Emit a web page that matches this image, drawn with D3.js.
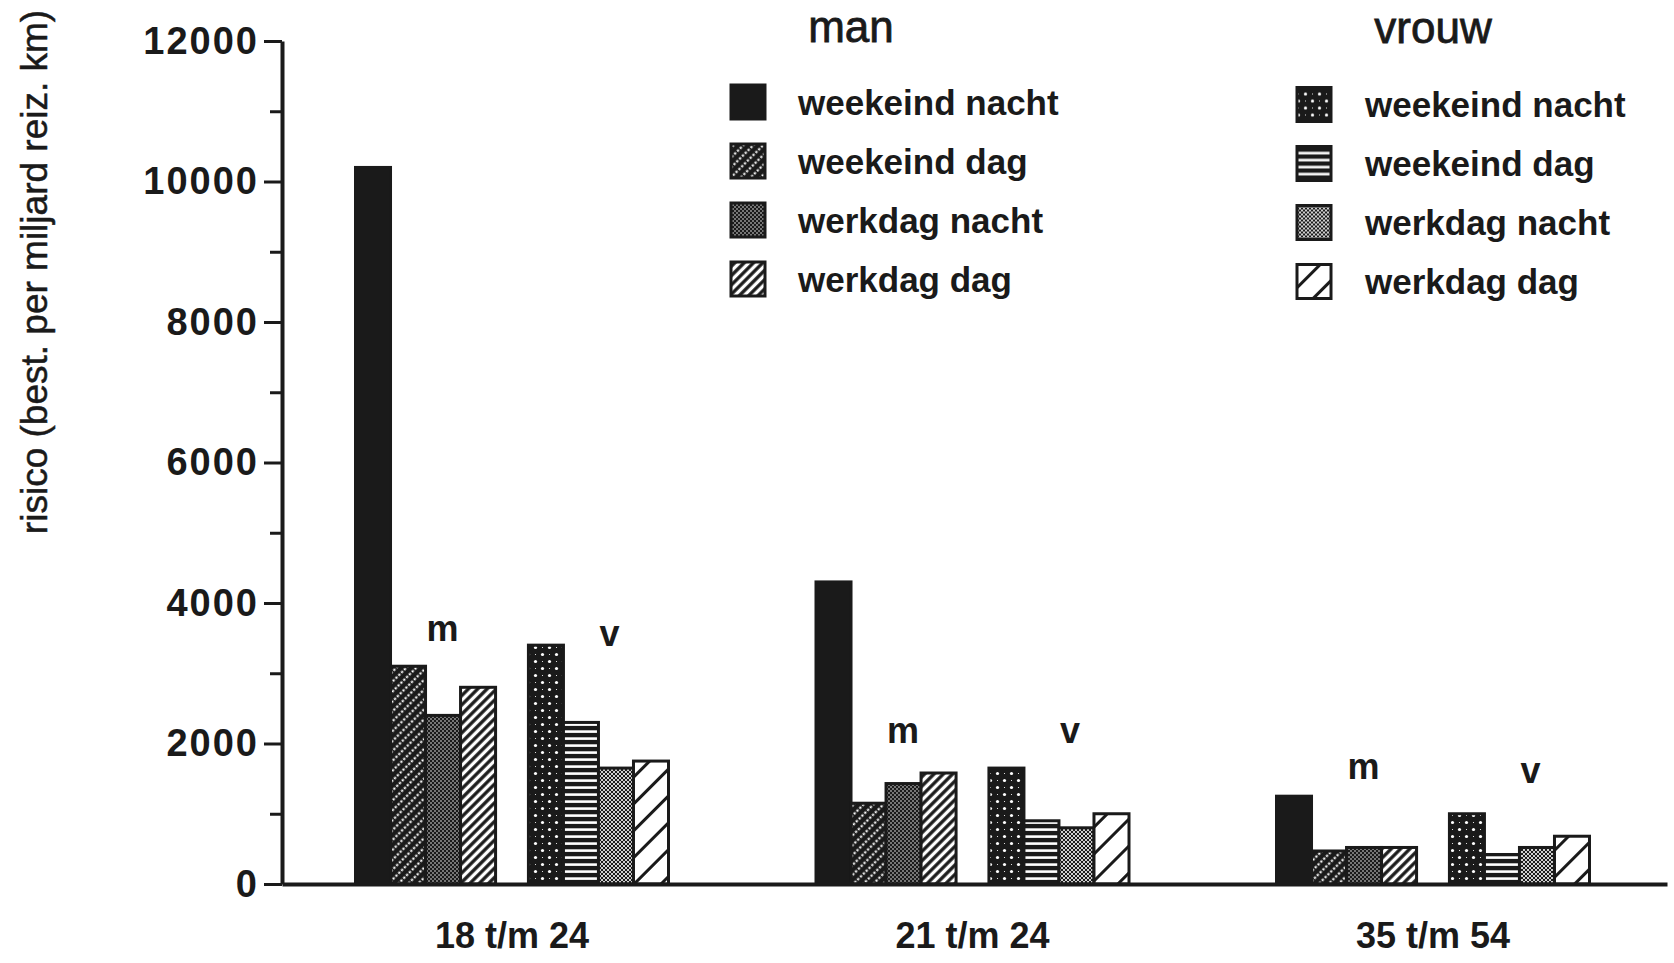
<!DOCTYPE html>
<html>
<head>
<meta charset="utf-8">
<script src="https://cdn.jsdelivr.net/npm/d3@7"></script>
<style>
  html, body { margin: 0; padding: 0; background: #fff; }
  svg { display: block; }
  text { font-family: "Liberation Sans", Arial, Helvetica, sans-serif; fill: #1a1a1a; }
</style>
</head>
<body>
<svg id="chart" width="1674" height="963"></svg>
<script>
// ---------- data ----------
const categories = ['18 t/m 24', '21 t/m 24', '35 t/m 54'];
const sexes = ['man', 'vrouw'];
const periods = ['weekeind nacht', 'weekeind dag', 'werkdag nacht', 'werkdag dag'];
const manValues = [
  [10200, 3100, 2400, 2800],
  [4300, 1150, 1430, 1580],
  [1250, 470, 520, 520]
];
const vrouwValues = [
  [3400, 2300, 1650, 1750],
  [1650, 900, 800, 1000],
  [1000, 420, 520, 680]
];
const sexShortLabels = ['m', 'v'];
const manLabelLevel = [3600, 2140, 1640];
const vrouwLabelLevel = [3520, 2140, 1580];
const majorTicks = [0, 2000, 4000, 6000, 8000, 10000, 12000];
const minorTicks = [1000, 3000, 5000, 7000, 9000, 11000];
const yTitle = 'risico (best. per miljard reiz. km)';

// ---------- setup ----------
const INK = '#1a1a1a';
const svg = d3.select('#chart');
const defs = svg.append('defs');

const y = d3.scaleLinear().domain([0, 12000]).range([884, 41]);
const x = d3.scalePoint().domain(categories).range([512, 1433]);
const xSex = d3.scaleBand().domain(sexes).range([-156.5, 156.5]).paddingInner(0.19).paddingOuter(0);
const xPeriod = d3.scaleBand().domain(periods).range([0, xSex.bandwidth()]).padding(0);

// ---------- patterns ----------
function pat(id, w, h, transform) {
  const p = defs.append('pattern').attr('id', id)
    .attr('patternUnits', 'userSpaceOnUse').attr('width', w).attr('height', h);
  if (transform) p.attr('patternTransform', transform);
  return p;
}
// man weekeind dag: black with white dotted diagonals
let p = pat('p_m_wd', 8, 7, 'rotate(-45)');
p.append('rect').attr('width', 8).attr('height', 7).attr('fill', INK);
p.append('line').attr('x1', 0).attr('x2', 8).attr('y1', 3.5).attr('y2', 3.5)
  .attr('stroke', '#fff').attr('stroke-width', 2).attr('stroke-dasharray', '2.4 1.6');
// man werkdag nacht: black with fine white dots
p = pat('p_m_kn', 4, 4);
p.append('rect').attr('width', 4).attr('height', 4).attr('fill', INK);
p.append('circle').attr('cx', 1).attr('cy', 1).attr('r', 0.75).attr('fill', '#fff');
p.append('circle').attr('cx', 3).attr('cy', 3).attr('r', 0.75).attr('fill', '#fff');
// man werkdag dag: black/white diagonal stripes
p = pat('p_m_kd', 10, 6.6, 'rotate(-45)');
p.append('rect').attr('width', 10).attr('height', 6.6).attr('fill', INK);
p.append('rect').attr('y', 1.6).attr('width', 10).attr('height', 3.3).attr('fill', '#fff');
// vrouw weekeind nacht: black with sparse white dots
p = pat('p_v_wn', 14, 14);
p.append('rect').attr('width', 14).attr('height', 14).attr('fill', INK);
p.append('circle').attr('cx', 3.5).attr('cy', 3.5).attr('r', 1.6).attr('fill', '#fff');
p.append('circle').attr('cx', 10.5).attr('cy', 10.5).attr('r', 1.6).attr('fill', '#fff');
p.append('circle').attr('cx', 10.5).attr('cy', 3.5).attr('r', 0.55).attr('fill', '#fff');
p.append('circle').attr('cx', 3.5).attr('cy', 10.5).attr('r', 0.55).attr('fill', '#fff');
// vrouw weekeind dag: black with white horizontal lines
p = pat('p_v_wd', 10, 7);
p.append('rect').attr('width', 10).attr('height', 7).attr('fill', INK);
p.append('rect').attr('y', 2.3).attr('width', 10).attr('height', 2.6).attr('fill', '#fff');
// vrouw werkdag nacht: lighter halftone
p = pat('p_v_kn', 4, 4);
p.append('rect').attr('width', 4).attr('height', 4).attr('fill', '#fff');
[[0,0],[4,0],[0,4],[4,4],[2,2]].forEach(([cx, cy]) =>
  p.append('circle').attr('cx', cx).attr('cy', cy).attr('r', 1.25).attr('fill', INK));
// vrouw werkdag dag: white with sparse black diagonals
p = pat('p_v_kd', 20, 19, 'rotate(-45)');
p.append('rect').attr('width', 20).attr('height', 19).attr('fill', '#fff');
p.append('rect').attr('y', 8).attr('width', 20).attr('height', 3).attr('fill', INK);

const fills = {
  man: [INK, 'url(#p_m_wd)', 'url(#p_m_kn)', 'url(#p_m_kd)'],
  vrouw: ['url(#p_v_wn)', 'url(#p_v_wd)', 'url(#p_v_kn)', 'url(#p_v_kd)']
};

// ---------- bars ----------
const rows = [];
categories.forEach((c, ci) => {
  sexes.forEach(s => {
    const vals = s === 'man' ? manValues[ci] : vrouwValues[ci];
    periods.forEach((pName, pi) => rows.push({ c, s, p: pName, pi, v: vals[pi] }));
  });
});

svg.append('g').selectAll('rect').data(rows).join('rect')
  .attr('x', d => x(d.c) + xSex(d.s) + xPeriod(d.p))
  .attr('y', d => y(d.v))
  .attr('width', xPeriod.bandwidth())
  .attr('height', d => y(0) - y(d.v))
  .attr('fill', d => fills[d.s][d.pi])
  .attr('stroke', INK).attr('stroke-width', 3);

// m / v labels
const lab = [];
categories.forEach((c, ci) => {
  lab.push({ t: sexShortLabels[0], x: x(c) + xSex('man') + xSex.bandwidth() / 2 + 17, v: manLabelLevel[ci] });
  lab.push({ t: sexShortLabels[1], x: x(c) + xSex('vrouw') + xSex.bandwidth() / 2 + 11, v: vrouwLabelLevel[ci] });
});
svg.append('g').selectAll('text').data(lab).join('text')
  .attr('x', d => d.x).attr('y', d => y(d.v))
  .attr('dy', '0.27em')
  .attr('text-anchor', 'middle')
  .attr('font-size', 36).attr('font-weight', 'bold')
  .text(d => d.t);

// ---------- axes ----------
const yAxis = svg.append('g').attr('transform', 'translate(282,0)')
  .call(d3.axisLeft(y).tickValues(majorTicks).tickSize(18).tickSizeOuter(0).tickPadding(5).tickFormat(d3.format('d')));
yAxis.select('.domain').attr('stroke', INK).attr('stroke-width', 4);
yAxis.selectAll('.tick line').attr('stroke', INK).attr('stroke-width', 3);
yAxis.selectAll('.tick text').attr('font-size', 38).attr('font-weight', 'bold')
  .attr('letter-spacing', 2)
  .attr('fill', INK).attr('font-family', '"Liberation Sans", Arial, sans-serif');

const yMinor = svg.append('g').attr('transform', 'translate(282,0)')
  .call(d3.axisLeft(y).tickValues(minorTicks).tickSize(12).tickSizeOuter(0).tickFormat(''));
yMinor.select('.domain').remove();
yMinor.selectAll('.tick line').attr('stroke', INK).attr('stroke-width', 3);

// x axis baseline
const xAxis = svg.append('g').attr('transform', `translate(0,${y(0)})`)
  .call(d3.axisBottom(d3.scaleLinear().domain([0, 1]).range([282, 1667])).ticks(0).tickSizeOuter(0));
xAxis.select('.domain').attr('stroke', INK).attr('stroke-width', 4);

// category labels
svg.append('g').selectAll('text').data(categories).join('text')
  .attr('x', d => x(d)).attr('y', 948)
  .attr('text-anchor', 'middle')
  .attr('font-size', 36).attr('font-weight', 'bold')
  .text(d => d);

// y title
svg.append('text')
  .attr('transform', 'translate(47,272) rotate(-90)')
  .attr('text-anchor', 'middle')
  .attr('font-size', 37)
  .attr('stroke', INK).attr('stroke-width', 0.5)
  .text(yTitle);

// ---------- legend ----------
const legendCfg = [
  { s: 'man', titleX: 851, titleY: 42, swX: 731, textX: 798, top: 102 },
  { s: 'vrouw', titleX: 1433, titleY: 43, swX: 1297, textX: 1365, top: 104.5 }
];
const rowY = d3.scaleLinear().domain([0, 3]).range([0, 177]);
legendCfg.forEach(cfg => {
  const g = svg.append('g');
  g.append('text').attr('x', cfg.titleX).attr('y', cfg.titleY)
    .attr('text-anchor', 'middle').attr('font-size', 44)
    .attr('stroke', INK).attr('stroke-width', 0.8)
    .text(cfg.s);
  const items = g.selectAll('g.item').data(periods).join('g')
    .attr('transform', (d, i) => `translate(0,${cfg.top + rowY(i)})`);
  items.append('rect')
    .attr('x', cfg.swX).attr('y', -17).attr('width', 34).attr('height', 34)
    .attr('fill', (d, i) => fills[cfg.s][i])
    .attr('stroke', INK).attr('stroke-width', 3);
  items.append('text')
    .attr('x', cfg.textX).attr('y', 0).attr('dy', '0.36em')
    .attr('font-size', 35).attr('font-weight', 'bold')
    .text(d => d);
});
</script>
</body>
</html>
